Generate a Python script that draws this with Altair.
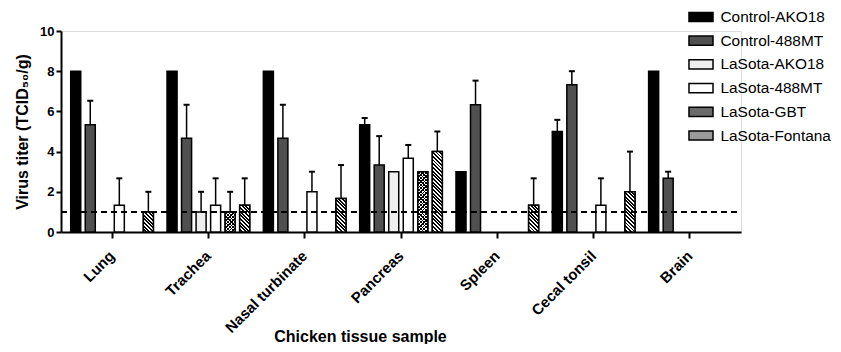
import altair as alt
import pandas as pd

tissues = ["Lung", "Trachea", "Nasal turbinate", "Pancreas", "Spleen", "Cecal tonsil", "Brain"]
series = ["Control-AKO18", "Control-488MT", "LaSota-AKO18", "LaSota-488MT", "LaSota-GBT", "LaSota-Fontana"]

ctrl_ako18 = [8.0, 8.0, 8.0, 5.33, 3.0, 5.0, 8.0]
ctrl_ako18_err = [None, None, None, 5.67, None, 5.58, None]
ctrl_488mt = [5.33, 4.67, 4.67, 3.33, 6.33, 7.33, 2.67]
ctrl_488mt_err = [6.53, 6.33, 6.33, 4.77, 7.53, 8.0, 3.0]
ls_ako18 = [None, 1.0, None, 3.0, None, None, None]
ls_ako18_err = [None, 2.0, None, None, None, None, None]
ls_488mt = [1.33, 1.33, 2.0, 3.67, None, 1.33, None]
ls_488mt_err = [2.67, 2.67, 3.0, 4.33, None, 2.67, None]
ls_gbt = [None, 1.0, None, 3.0, None, None, None]
ls_gbt_err = [None, 2.0, None, None, None, None, None]
ls_fontana = [1.0, 1.33, 1.67, 4.0, 1.33, 2.0, None]
ls_fontana_err = [2.0, 2.67, 3.33, 5.0, 2.67, 4.0, None]
detection_limit = [1.0]

colors = ["#000000", "#505050", "#eeeeee", "#ffffff", "#6a6a6a", "#9a9a9a"]
HATCHED = "LaSota-Fontana"
CHECKED = "LaSota-GBT"

all_vals = [ctrl_ako18, ctrl_488mt, ls_ako18, ls_488mt, ls_gbt, ls_fontana]
all_errs = [ctrl_ako18_err, ctrl_488mt_err, ls_ako18_err, ls_488mt_err, ls_gbt_err, ls_fontana_err]

rows = []
for i, t in enumerate(tissues):
    for s, vals, errs in zip(series, all_vals, all_errs):
        if vals[i] is not None:
            rows.append({"tissue": t, "series": s, "value": vals[i], "err": errs[i]})
df = pd.DataFrame(rows)
err_df = df[df["err"].notna()].copy()
hatch_df = df[df["series"] == HATCHED].copy()
check_df = df[df["series"] == CHECKED].copy()

FONT = "Liberation Sans"


def stripe_stops(n, light_frac, light, dark):
    parts = []
    for k in range(n):
        a = k / n
        b = (k + light_frac) / n
        c = (k + 1) / n
        parts.append(f"{{offset:{a:.5f},color:'{light}'}}")
        parts.append(f"{{offset:{b:.5f},color:'{light}'}}")
        parts.append(f"{{offset:{b:.5f},color:'{dark}'}}")
        parts.append(f"{{offset:{c:.5f},color:'{dark}'}}")
    return "[" + ",".join(parts) + "]"


w_js = "bandwidth('xOffset')"
h_js = "max(1,(scale('y',0)-scale('y',datum.value)))"


def diag_gradient(n, period, light_frac, light, dark, backslash=True):
    dist = n * period
    k_js = f"(1.41421*{dist}/({w_js}*{w_js}+{h_js}*{h_js}))"
    stops = stripe_stops(n, light_frac, light, dark)
    if backslash:
        return f"{{gradient:'linear',x1:0,y1:1,x2:{w_js}*{k_js},y2:1-{h_js}*{k_js},stops:{stops}}}"
    return f"{{gradient:'linear',x1:0,y1:0,x2:{w_js}*{k_js},y2:{h_js}*{k_js},stops:{stops}}}"


hatch_expr = diag_gradient(26, 2.6, 0.5, "#ffffff", "#000000", backslash=True)
check_a_expr = diag_gradient(32, 2.4, 0.62, "#ffffff", "#000000", backslash=True)
check_b_expr = diag_gradient(32, 2.4, 0.62, "rgba(0,0,0,0)", "#000000", backslash=False)

x_enc = alt.X(
    "tissue:N",
    sort=tissues,
    scale=alt.Scale(domain=tissues, paddingInner=0, paddingOuter=0.03),
    axis=alt.Axis(
        title="Chicken tissue sample",
        labelAngle=-45,
        labelFontWeight="bold",
        labelFontSize=15,
        labelColor="black",
        labelPadding=15,
        tickSize=6,
        tickWidth=2,
        tickColor="black",
        domainWidth=2,
        domainColor="black",
        titleX=299,
        titleY=109,
        titleAlign="center",
        titleBaseline="alphabetic",
        titleFontSize=16,
        titleFontWeight="bold",
        titleColor="black",
    ),
)
xo_enc = alt.XOffset(
    "series:N",
    sort=series,
    scale=alt.Scale(domain=series, paddingInner=0.31, paddingOuter=0.47),
)
y_scale = alt.Scale(domain=[0, 10])
y_axis = alt.Axis(
    values=[0, 2, 4, 6, 8, 10],
    title="Virus titer (TCID₅₀/g)",
    grid=False,
    domainWidth=2,
    domainColor="black",
    tickWidth=2,
    tickSize=5,
    tickColor="black",
    labelFontSize=13,
    labelFontWeight="bold",
    labelColor="black",
    labelPadding=2,
    titleFontSize=16,
    titleFontWeight="bold",
    titleColor="black",
    titlePadding=9,
)

color_enc = alt.Color(
    "series:N",
    sort=series,
    scale=alt.Scale(domain=series, range=colors),
    legend=alt.Legend(
        title=None,
        orient="none",
        legendX=630,
        legendY=-24,
        symbolType="M-1.3,-0.5H1.3V0.5H-1.3Z",
        symbolSize=342,
        symbolStrokeColor="black",
        symbolStrokeWidth=1.5,
        symbolOpacity=1,
        labelFontSize=15.4,
        labelOffset=9.5,
        labelFont=FONT,
        labelColor="black",
        rowPadding=4.7,
        padding=0,
    ),
)

x_plain = alt.X("tissue:N", sort=tissues)
xo_plain = alt.XOffset("series:N", sort=series)

bars = alt.Chart(df).mark_bar(stroke="black", strokeWidth=1.5, opacity=1).encode(
    x=x_enc,
    xOffset=xo_enc,
    y=alt.Y("value:Q", scale=y_scale, axis=y_axis),
    color=color_enc,
)

hatch = alt.Chart(hatch_df).mark_bar(
    stroke="black", strokeWidth=1.5, opacity=1, fill={"expr": hatch_expr}
).encode(x=x_plain, xOffset=xo_plain, y=alt.Y("value:Q"))

check_a = alt.Chart(check_df).mark_bar(
    strokeWidth=0, opacity=1, fill={"expr": check_a_expr}
).encode(x=x_plain, xOffset=xo_plain, y=alt.Y("value:Q"))

check_b = alt.Chart(check_df).mark_bar(
    stroke="black", strokeWidth=1.5, opacity=1, fill={"expr": check_b_expr}
).encode(x=x_plain, xOffset=xo_plain, y=alt.Y("value:Q"))

err_rule = alt.Chart(err_df).mark_rule(color="black", strokeWidth=1.5).encode(
    x=x_plain, xOffset=xo_plain, y=alt.Y("value:Q"), y2="err:Q"
)
err_cap = alt.Chart(err_df).mark_tick(color="black", thickness=2, size=6, opacity=1).encode(
    x=x_plain, xOffset=xo_plain, y=alt.Y("err:Q")
)

lod = alt.Chart(pd.DataFrame({"lod": detection_limit})).mark_rule(
    color="black", strokeWidth=2, strokeDash=[6, 4]
).encode(y="lod:Q", x=alt.value(0), x2=alt.value(678))

chart = (
    alt.layer(err_rule, bars, hatch, check_a, check_b, err_cap, lod)
    .properties(
        width=680,
        height=201,
        autosize=alt.AutoSizeParams(type="none"),
        padding={"left": 53, "top": 23, "right": 92, "bottom": 112},
    )
    .configure_view(stroke=None)
    .configure(font=FONT)
)

chart.save("out.html", embed_options={"renderer": "svg", "actions": False})
